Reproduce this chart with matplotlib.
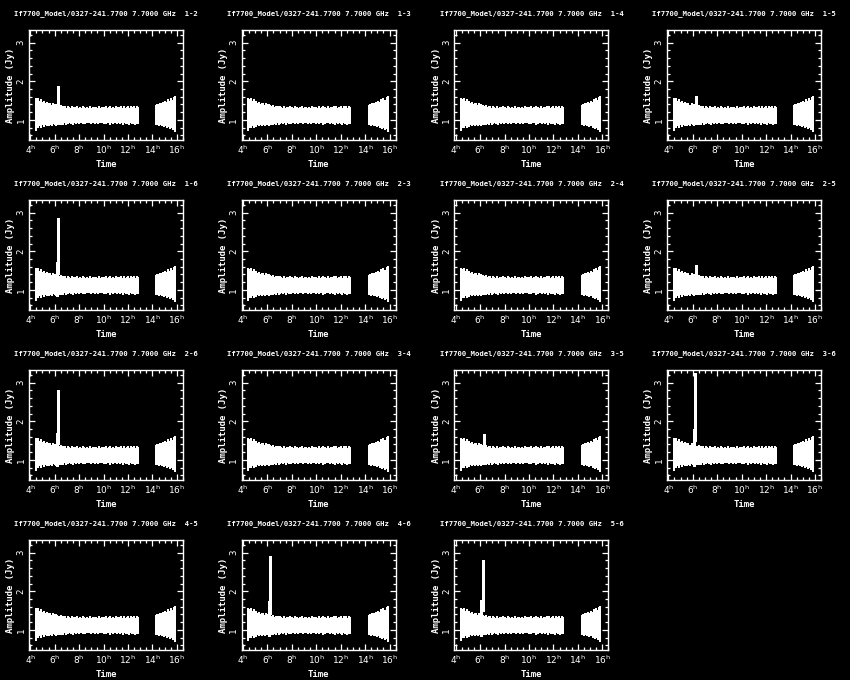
import matplotlib
matplotlib.use("Agg")
import matplotlib.pyplot as plt
from matplotlib.ticker import MultipleLocator, FixedLocator

plt.rcParams['font.family'] = ['DejaVu Sans Mono', 'DejaVu Sans']
plt.rcParams['mathtext.fontset'] = 'dejavusans'

source = "If7700_Model/0327-241.7700"
freq = "7.7000 GHz"
baselines = ["1-2", "1-3", "1-4", "1-5", "1-6", "2-3", "2-4", "2-5",
             "2-6", "3-4", "3-5", "3-6", "4-5", "4-6", "5-6"]

# scan times (hours) and shared amplitude envelope (Jy)
times = [4.45, 4.55, 4.65, 4.75, 4.9, 5.0, 5.1, 5.2, 5.35, 5.45, 5.55, 5.65,
         5.8, 5.9, 6.0, 6.1, 6.22, 6.35, 6.5, 6.6, 6.7, 6.85, 6.95, 7.05, 7.15,
         7.3, 7.4, 7.5, 7.6, 7.75, 7.85, 7.95, 8.05, 8.2, 8.3, 8.4, 8.5,
         8.65, 8.75, 8.85, 8.95, 9.1, 9.2, 9.3, 9.4, 9.55, 9.65, 9.75, 9.85,
         10.0, 10.1, 10.2, 10.3, 10.45, 10.55, 10.65, 10.75, 10.9, 11.0,
         11.1, 11.2, 11.35, 11.45, 11.55, 11.65, 11.8, 11.9, 12.0, 12.1,
         12.25, 12.35, 12.45, 12.55, 12.7, 12.8,
         14.3, 14.4, 14.5, 14.6, 14.75, 14.85, 14.95, 15.05, 15.2, 15.3,
         15.4, 15.5, 15.65, 15.75, 15.85]
amp_hi = [1.58, 1.55, 1.57, 1.50, 1.53, 1.46, 1.50, 1.44, 1.47, 1.40, 1.45, 1.43,
          1.38, 1.44, 1.40, 1.42, 1.39, 1.36, 1.39, 1.33, 1.37, 1.35, 1.31, 1.36, 1.34,
          1.32, 1.35, 1.30, 1.34, 1.33, 1.36, 1.31, 1.34, 1.30, 1.35, 1.33, 1.31,
          1.34, 1.32, 1.35, 1.30, 1.34, 1.33, 1.31, 1.34, 1.32, 1.35, 1.30, 1.33,
          1.34, 1.31, 1.35, 1.32, 1.33, 1.36, 1.31, 1.34, 1.32, 1.35,
          1.30, 1.34, 1.33, 1.36, 1.31, 1.35, 1.32, 1.34, 1.36, 1.31,
          1.35, 1.33, 1.36, 1.32, 1.35, 1.33,
          1.38, 1.42, 1.40, 1.45, 1.43, 1.47, 1.44, 1.50, 1.47, 1.53,
          1.50, 1.56, 1.52, 1.60, 1.63]
amp_lo = [0.72, 0.80, 0.78, 0.84, 0.80, 0.86, 0.82, 0.87, 0.84, 0.88, 0.83, 0.87,
          0.85, 0.89, 0.86, 0.84, 0.86, 0.88, 0.86, 0.90, 0.87, 0.91, 0.88, 0.90, 0.92,
          0.89, 0.91, 0.88, 0.92, 0.90, 0.93, 0.89, 0.91, 0.93, 0.90, 0.92, 0.89,
          0.93, 0.91, 0.92, 0.90, 0.93, 0.91, 0.89, 0.92, 0.90, 0.93, 0.91, 0.92,
          0.89, 0.92, 0.90, 0.93, 0.91, 0.88, 0.92, 0.90, 0.93, 0.91,
          0.89, 0.92, 0.90, 0.91, 0.88, 0.91, 0.89, 0.92, 0.90, 0.88,
          0.91, 0.89, 0.90, 0.87, 0.90, 0.89,
          0.86, 0.88, 0.84, 0.87, 0.83, 0.85, 0.81, 0.84, 0.80, 0.82,
          0.77, 0.80, 0.74, 0.76, 0.68]

# per-baseline flare bars: (time, low, high)
spikes = {
    "1-2": [(6.25, 1.30, 1.88)],
    "1-5": [(6.30, 1.30, 1.62)],
    "1-6": [(6.15, 0.85, 1.72), (6.25, 1.40, 2.87)],
    "2-5": [(6.30, 1.30, 1.65)],
    "2-6": [(6.15, 0.85, 1.70), (6.25, 1.40, 2.80)],
    "3-5": [(6.30, 1.00, 1.68)],
    "3-6": [(6.10, 0.85, 1.80), (6.22, 1.50, 3.25)],
    "4-6": [(6.15, 0.85, 1.75), (6.25, 1.40, 2.92)],
    "5-6": [(6.10, 0.85, 1.78), (6.22, 1.50, 2.82)],
}

xticks = [4, 6, 8, 10, 12, 14, 16]
yticks = [1, 2, 3]

W, H = 850, 680
fig = plt.figure(figsize=(8.5, 6.8), dpi=100, facecolor='black')

for i, bl in enumerate(baselines):
    r, c = divmod(i, 4)
    left = 29 + 212.7 * c
    top = 30 + 170 * r
    ax = fig.add_axes([left / W, 1 - (top + 110) / H, 154 / W, 110 / H])
    ax.set_facecolor('black')
    ax.vlines(times, amp_lo, amp_hi, colors='white', linewidth=1.1,
              antialiased=False)
    for (t, lo, hi) in spikes.get(bl, []):
        ax.vlines([t], [lo], [hi], colors='white', linewidth=0.9,
                  antialiased=False)
    ax.set_xlim(3.9, 16.5)
    ax.set_ylim(0.48, 3.33)
    ax.xaxis.set_major_locator(FixedLocator(xticks))
    ax.set_xticklabels([r'$%d^{\mathrm{h}}$' % t for t in xticks])
    ax.xaxis.set_minor_locator(MultipleLocator(0.5))
    ax.yaxis.set_major_locator(FixedLocator(yticks))
    ax.yaxis.set_minor_locator(MultipleLocator(0.2))
    ax.set_yticklabels([str(v) for v in yticks], rotation=90, va='center')
    for s in ax.spines.values():
        s.set_color('white')
        s.set_linewidth(1.0)
    ax.tick_params(which='both', direction='in', top=True, right=True,
                   colors='white', labelsize=6.5, width=0.9, pad=2.5)
    ax.tick_params(which='major', length=4.5)
    ax.tick_params(which='minor', length=2.2)
    ax.set_xlabel('Time', color='white', fontsize=6.5, fontweight='bold',
                  labelpad=3)
    ax.set_ylabel('Amplitude (Jy)', color='white', fontsize=6.5,
                  fontweight='bold', labelpad=1)
    ax.set_title(f"{source} {freq}  {bl}", color='white', fontsize=5.2,
                 fontweight='bold', pad=11)

fig.savefig('out.png', dpi=100, facecolor='black')
